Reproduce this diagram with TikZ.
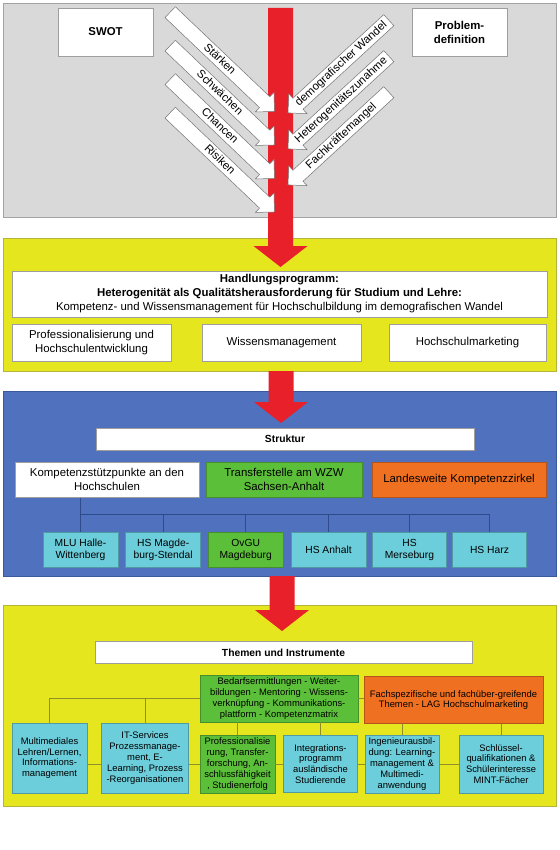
\documentclass[tikz,border=0pt]{standalone}
\usepackage{fontspec}
\setmainfont{Liberation Sans}
\usetikzlibrary{shapes.arrows}
\definecolor{secgray}{HTML}{D9D9D9}
\definecolor{secgrayline}{HTML}{A3A3A3}
\definecolor{secyellow}{HTML}{E6E61E}
\definecolor{secyellowline}{HTML}{B4B43A}
\definecolor{secblue}{HTML}{4F71BE}
\definecolor{secblueline}{HTML}{3B5A9E}
\definecolor{bgreen}{HTML}{5CBF3A}
\definecolor{borange}{HTML}{F07022}
\definecolor{bcyan}{HTML}{6CCEDB}
\definecolor{arrred}{HTML}{E8202A}
\definecolor{blueconn}{HTML}{2E4C8C}
\definecolor{yelconn}{HTML}{8F8F2A}
\newcommand{\fsA}{\fontsize{11.4}{14}\selectfont}
\newcommand{\fsB}{\fontsize{10.3}{12}\selectfont}
\newcommand{\fsC}{\fontsize{9.4}{10.8}\selectfont}
\newcommand{\RedArrow}[3]{\fill[arrred] (#1-12.5,#2) -- (#1+12.5,#2) -- (#1+12.5,#3-21) -- (#1+27,#3-21) -- (#1,#3) -- (#1-27,#3-21) -- (#1-12.5,#3-21) -- cycle;}
\begin{document}
\begin{tikzpicture}[x=1pt,y=-1pt,
  sec/.style={line width=0.8pt},
  wbox/.style={draw=black!38, fill=white, line width=0.6pt, align=center, inner sep=1pt, font=\fsA},
  gbox/.style={wbox, draw=bgreen!75!black, fill=bgreen},
  obox/.style={wbox, draw=borange!75!black, fill=borange},
  cbox/.style={wbox, draw=bcyan!75!black, fill=bcyan, font=\fsB},
  sbox/.style={wbox, font=\fsC},
  warrow/.style={single arrow, draw=black!55, fill=white, line width=0.5pt,
    single arrow head extend=6pt, single arrow tip angle=90, inner sep=1pt,
    text height=9.5pt, text depth=3pt, font=\fsA},
  bline/.style={draw=blueconn, line width=0.8pt},
  yline/.style={draw=yelconn, line width=0.8pt}]
\useasboundingbox (0,0) rectangle (559,850);
% ---------- section 1 ----------
\draw[sec, fill=secgray, draw=secgrayline] (3,3) rectangle (556,217);
\node[wbox, font=\fsA\bfseries, minimum width=95, minimum height=48] (swot) at (105.5,32) {SWOT};
\node[wbox, font=\fsA\bfseries, minimum width=95, minimum height=48] (prob) at (459.5,32) {Problem-\\definition};
\RedArrow{280.5}{8}{267}
\node[warrow, minimum height=144, rotate=-43.6, anchor=tail] (s1) at (170,12) {Stärken};
\node[warrow, minimum height=144, rotate=-43.6, anchor=tail] (s2) at (170,45.5) {Schwächen};
\node[warrow, minimum height=144, rotate=-43.6, anchor=tail] (s3) at (170,79) {Chancen};
\node[warrow, minimum height=144, rotate=-43.6, anchor=tail] (s4) at (170,112.5) {Risiken};
\node[warrow, minimum height=137, rotate=42.6, shape border rotate=180, anchor=tail] (p1) at (389,20) {demografischer Wandel};
\node[warrow, minimum height=137, rotate=42.6, shape border rotate=180, anchor=tail] (p2) at (389,56) {Heterogenitätszunahme};
\node[warrow, minimum height=137, rotate=42.6, shape border rotate=180, anchor=tail] (p3) at (389,92) {Fachkräftemangel};
% ---------- section 2 ----------
\draw[sec, fill=secyellow, draw=secyellowline] (3,238) rectangle (556,371);
\RedArrow{280.5}{230}{267}
\node[wbox, minimum width=535, minimum height=46] (hp) at (279.5,294)
  {\textbf{Handlungsprogramm:}\\\textbf{Heterogenität als Qualitätsherausforderung für Studium und Lehre:}\\Kompetenz- und Wissensmanagement für Hochschulbildung im demografischen Wandel};
\node[wbox, minimum width=159, minimum height=37] (phe) at (91.5,342.5) {Professionalisierung und\\Hochschulentwicklung};
\node[wbox, minimum width=159, minimum height=37] (wm) at (281.5,342.5) {Wissensmanagement};
\node[wbox, minimum width=157, minimum height=37] (hm) at (467.5,342.5) {Hochschulmarketing};
% ---------- section 3 ----------
\draw[sec, fill=secblue, draw=secblueline] (3,391) rectangle (556,576);
\RedArrow{281}{371}{423}
\node[wbox, font=\fsB\bfseries, minimum width=378, minimum height=22] (str) at (285,439) {Struktur};
\node[wbox, minimum width=184, minimum height=35.5] (kom) at (107,479.75) {Kompetenzstützpunkte an den\\Hochschulen};
\node[gbox, minimum width=156, minimum height=35.5] (tra) at (284,479.75) {Transferstelle am WZW\\Sachsen-Anhalt};
\node[obox, minimum width=174, minimum height=35.5] (lkz) at (459,479.75) {Landesweite Kompetenzzirkel};
\node[cbox, minimum width=75, minimum height=35] (mlu) at (80.5,549.5) {MLU Halle-\\Wittenberg};
\node[cbox, minimum width=75, minimum height=35] (mag) at (163.2,549.5) {HS Magde-\\burg-Stendal};
\node[cbox, draw=bgreen!75!black, fill=bgreen, minimum width=75, minimum height=35] (ovgu) at (245.7,549.5) {OvGU\\Magdeburg};
\node[cbox, minimum width=75, minimum height=35] (anh) at (328.5,549.5) {HS Anhalt};
\node[cbox, minimum width=74, minimum height=35] (mer) at (409.5,549.5) {HS\\Merseburg};
\node[cbox, minimum width=74, minimum height=35] (harz) at (489.5,549.5) {HS Harz};
\coordinate (bus) at (0,514.5);
\draw[bline] (kom.south -| mlu.north) -- (mlu.north);
\draw[bline] (mlu.north |- bus) -- (harz.north |- bus);
\foreach \n in {mag,ovgu,anh,mer,harz} \draw[bline] (\n.north |- bus) -- (\n.north);
% ---------- section 4 ----------
\draw[sec, fill=secyellow, draw=secyellowline] (3,605) rectangle (556,806);
\RedArrow{282}{576}{631}
\node[wbox, font=\fsB\bfseries, minimum width=377, minimum height=21.5] (thi) at (283.5,652.5) {Themen und Instrumente};
\node[sbox, draw=bgreen!75!black, fill=bgreen, minimum width=158, minimum height=47] (bed) at (279,698.5)
  {Bedarfsermittlungen - Weiter-\\bildungen - Mentoring - Wissens-\\verknüpfung - Kommunikations-\\plattform - Kompetenzmatrix};
\node[sbox, draw=borange!75!black, fill=borange, minimum width=179, minimum height=46.5] (fach) at (453.5,700)
  {Fachspezifische und fachüber-greifende\\Themen - LAG Hochschulmarketing};
\node[sbox, draw=bcyan!75!black, fill=bcyan, minimum width=75, minimum height=70] (mm) at (49.5,758)
  {Multimediales\\Lehren/Lernen,\\Informations-\\management};
\node[sbox, draw=bcyan!75!black, fill=bcyan, minimum width=86.5, minimum height=70] (its) at (145,758)
  {IT-Services\\Prozessmanage-\\ment, E-\\Learning, Prozess\\-Reorganisationen};
\node[sbox, draw=bgreen!75!black, fill=bgreen, minimum width=75, minimum height=58] (pro) at (237.5,764)
  {Professionalisie\\rung, Transfer-\\forschung, An-\\schlussfähigkeit\\, Studienerfolg};
\node[sbox, draw=bcyan!75!black, fill=bcyan, minimum width=74, minimum height=56.5] (int) at (320.5,764)
  {Integrations-\\programm\\ausländische\\Studierende};
\node[sbox, draw=bcyan!75!black, fill=bcyan, minimum width=74, minimum height=58] (ing) at (402,764)
  {Ingenieurausbil-\\dung: Learning-\\management \&\\Multimedi-\\anwendung};
\node[sbox, draw=bcyan!75!black, fill=bcyan, minimum width=84, minimum height=58] (sch) at (501,764)
  {Schlüssel-\\qualifikationen \&\\Schülerinteresse\\MINT-Fächer};
\coordinate (hb) at (0,764);
\draw[yline] (bed.west) -- (mm.north |- bed.west) -- (mm.north);
\draw[yline] (its.north) -- (its.north |- bed.west);
\draw[yline] (bed.east) -- (bed.east -| fach.west);
\draw[yline] (pro.north) -- (pro.north |- bed.south);
\draw[yline] (int.north) -- (int.north |- bed.south);
\draw[yline] (ing.north) -- (ing.north |- fach.south);
\draw[yline] (sch.north) -- (sch.north |- fach.south);
\draw[yline] (mm.east |- hb) -- (its.west |- hb);
\draw[yline] (its.east |- hb) -- (pro.west |- hb);
\draw[yline] (pro.east |- hb) -- (int.west |- hb);
\draw[yline] (int.east |- hb) -- (ing.west |- hb);
\draw[yline] (ing.east |- hb) -- (sch.west |- hb);
\end{tikzpicture}
\end{document}
